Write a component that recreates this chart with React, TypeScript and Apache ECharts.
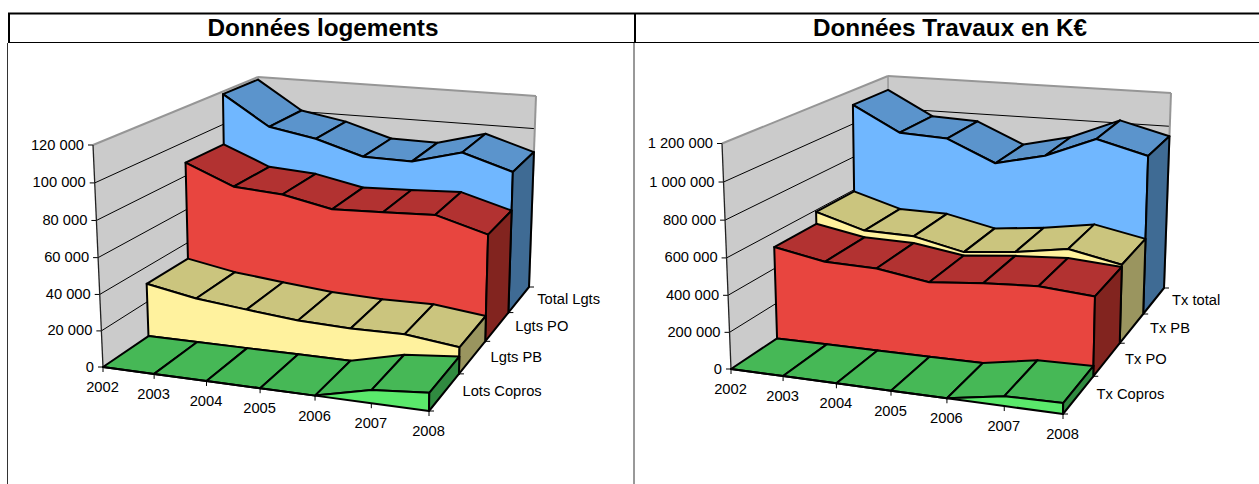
import React, { useEffect, useRef } from "react";
import * as echarts from "echarts";

const years = ["2002", "2003", "2004", "2005", "2006", "2007", "2008"];

// Left chart: Données logements
const lotsCopros = [0, 0, 0, 0, 0, 7100, 9750];
const lgtsPB = [30400, 25200, 22200, 19400, 18350, 18650, 15000];
const lgtsPO = [87700, 76200, 74300, 68400, 69500, 70850, 62400];
const totalLgts = [118350, 100700, 95700, 87200, 86800, 94600, 85500];
const leftTicks = [0, 20000, 40000, 60000, 80000, 100000, 120000];
const leftTickLabels = ["0", "20 000", "40 000", "60 000", "80 000", "100 000", "120 000"];
const leftDepthNames = ["Lots Copros", "Lgts PB", "Lgts PO", "Total Lgts"];

// Right chart: Données Travaux en K€
const txCopros = [0, 0, 0, 0, 0, 52500, 57600];
const txPO = [519700, 467500, 461500, 417000, 444200, 461500, 439200];
const txPB = [589900, 506700, 500700, 437200, 466400, 512600, 452300];
const txTotal = [1113400, 967400, 953800, 828800, 895800, 1016600, 940100];
const rightTicks = [0, 200000, 400000, 600000, 800000, 1000000, 1200000];
const rightTickLabels = ["0", "200 000", "400 000", "600 000", "800 000", "1 000 000", "1 200 000"];
const rightDepthNames = ["Tx Copros", "Tx PO", "Tx PB", "Tx total"];

const GREEN = { front: "#5AE96B", top: "#46B856", side: "#308A40" };
const YELLOW = { front: "#FFF29E", top: "#CBC57E", side: "#9A955F" };
const RED = { front: "#E8453F", top: "#B23231", side: "#82241F" };
const BLUE = { front: "#70B7FF", top: "#5B94CC", side: "#3F6B94" };
const FONT = "Liberation Sans, Arial, sans-serif";
const FONT_SIZE = 14.7;
const TITLE_SIZE = 24.3;
const LINE = 2;

type P = [number, number];
type Box = {
  fbl: P; ftl: P; fbr: P; ftr: P; bbl: P; btl: P; bbr: P; btr: P;
  left: number; top: number; width: number; height: number;
};

const leftBox: Box = {
  fbl: [103, 367], ftl: [93, 145], fbr: [429, 411], ftr: [433, 181],
  bbl: [259, 261], btl: [258, 77], bbr: [529, 287], btr: [536, 96],
  left: 93, top: 145, width: 336, height: 222,
};
const rightBox: Box = {
  fbl: [731, 369], ftl: [722, 143.5], fbr: [1063, 414], ftr: [1067, 180],
  bbl: [889, 264], btl: [888, 76], bbr: [1164, 288], btr: [1171, 93],
  left: 722, top: 143, width: 341, height: 226,
};

const lerp = (a: P, b: P, t: number): P => [a[0] + (b[0] - a[0]) * t, a[1] + (b[1] - a[1]) * t];
const warp = (t: number, k: number) => (t <= 0 ? 0 : t >= 1 ? 1 : t / (t + k * (1 - t)));

function project(b: Box, u: number, v: number, w: number): P {
  const uu = warp(u, 1.075);
  const ww = warp(w, 0.81 - 0.03 * uu);
  const vv = warp(v, 1.03);
  const bottom = lerp(lerp(b.fbl, b.fbr, uu), lerp(b.bbl, b.bbr, uu), ww);
  const top = lerp(lerp(b.ftl, b.ftr, uu), lerp(b.btl, b.btr, uu), ww);
  return lerp(bottom, top, vv);
}

const poly = (points: P[], fill: string, stroke: string, lineWidth = LINE) => ({
  type: "polygon",
  shape: { points },
  style: { fill, stroke, lineWidth, lineJoin: "round" },
});
const line = (a: P, b: P, stroke: string, lineWidth: number) => ({
  type: "line",
  shape: { x1: a[0], y1: a[1], x2: b[0], y2: b[1] },
  style: { stroke, lineWidth, fill: "none" },
});
const label = (x: number, y: number, text: string, align: string) => ({
  type: "text",
  style: { x, y, text, fill: "#000", fontSize: FONT_SIZE, fontFamily: FONT, align, verticalAlign: "middle" },
});

function norm(b: Box, c: number[]) {
  return { u: (c[0] - b.left) / b.width, v: (b.top + b.height - c[1]) / b.height };
}

function bandSeries(name: string, values: number[], z: number, colors: typeof BLUE, b: Box, axis: number) {
  return {
    type: "custom",
    name,
    xAxisIndex: axis,
    yAxisIndex: axis,
    silent: true,
    clip: false,
    encode: { x: 0, y: 1 },
    data: values.map((val, i) => [i, val]),
    renderItem: (params: any, api: any) => {
      if (params.dataIndex !== 0) return null;
      const n = values.length;
      const front: P[] = [];
      const back: P[] = [];
      const frontFloor: P[] = [];
      const backFloor: P[] = [];
      for (let i = 0; i < n; i++) {
        const { u, v } = norm(b, api.coord([i, api.value(1, i)]));
        front.push(project(b, u, v, z / 4));
        back.push(project(b, u, v, (z + 1) / 4));
        frontFloor.push(project(b, u, 0, z / 4));
        backFloor.push(project(b, u, 0, (z + 1) / 4));
      }
      const children: any[] = [];
      for (let i = 0; i < n - 1; i++) {
        children.push(poly([front[i], front[i + 1], back[i + 1], back[i]], colors.top, "#000"));
      }
      children.push(poly([...front, ...frontFloor.slice().reverse()], colors.front, "#000"));
      children.push(poly([front[n - 1], back[n - 1], backFloor[n - 1], frontFloor[n - 1]], colors.side, "#000"));
      return { type: "group", children };
    },
  };
}

function frameSeries(b: Box, axis: number) {
  return {
    type: "custom",
    name: "walls",
    xAxisIndex: axis,
    yAxisIndex: axis,
    silent: true,
    clip: false,
    encode: { x: 0, y: 1 },
    data: [[0, 0]],
    renderItem: () => ({
      type: "group",
      children: [
        poly([b.fbl, b.fbr, b.bbr, b.bbl], "#CBCBCB", "none", 0),
        poly([b.fbl, b.ftl, b.btl, b.bbl], "#CBCBCB", "none", 0),
        poly([b.bbl, b.btl, b.btr, b.bbr], "#CBCBCB", "none", 0),
      ],
    }),
  };
}

function yTickSeries(ticks: number[], tickLabels: string[], b: Box, axis: number) {
  return {
    type: "custom",
    name: "value ticks",
    xAxisIndex: axis,
    yAxisIndex: axis,
    silent: true,
    clip: false,
    encode: { x: 0, y: 1 },
    data: ticks.map((t) => [0, t]),
    renderItem: (params: any, api: any) => {
      const { v } = norm(b, api.coord([0, api.value(1)]));
      const a = project(b, 0, v, 0);
      const m = project(b, 0, v, 1);
      const e = project(b, 1, v, 1);
      const children: any[] = [];
      if (v > 0.001 && v < 0.999) {
        children.push(line(a, m, "#000", 1), line(m, e, "#000", 1));
      }
      children.push(line([a[0] - 5, a[1]], a, "#000", 1));
      children.push(label(a[0] - 9, a[1] - 0.5, tickLabels[params.dataIndex], "right"));
      return { type: "group", children };
    },
  };
}

function edgeSeries(b: Box, axis: number) {
  return {
    type: "custom",
    name: "wall edges",
    xAxisIndex: axis,
    yAxisIndex: axis,
    silent: true,
    clip: false,
    encode: { x: 0, y: 1 },
    data: [[0, 0]],
    renderItem: () => ({
      type: "group",
      children: [
        line(b.ftl, b.btl, "#969696", 2),
        line(b.btl, b.btr, "#969696", 2),
        line(b.btr, b.bbr, "#969696", 2),
        line(b.btl, b.bbl, "#969696", 1.5),
        line(b.ftl, b.fbl, "#222", 1.3),
      ],
    }),
  };
}

function xTickSeries(b: Box, axis: number) {
  return {
    type: "custom",
    name: "year ticks",
    xAxisIndex: axis,
    yAxisIndex: axis,
    silent: true,
    clip: false,
    encode: { x: 0, y: 1 },
    data: years.map((_, i) => [i, 0]),
    renderItem: (params: any, api: any) => {
      const { u } = norm(b, api.coord([api.value(0), 0]));
      const p = project(b, u, 0, 0);
      return {
        type: "group",
        children: [
          line(p, [p[0], p[1] + 5], "#000", 1),
          label(p[0] - 0.5, p[1] + 20, years[params.dataIndex], "center"),
        ],
      };
    },
  };
}

function depthSeries(names: string[], b: Box, axis: number) {
  return {
    type: "custom",
    name: "depth ticks",
    xAxisIndex: axis,
    yAxisIndex: axis,
    silent: true,
    clip: false,
    encode: { x: 0, y: 1 },
    data: names.map((_, i) => [6, 0, i]),
    renderItem: (params: any) => {
      const i = params.dataIndex;
      const p0 = project(b, 1, 0, i / 4);
      const p1 = project(b, 1, 0, (i + 1) / 4);
      const children: any[] = [];
      if (i === 0) children.push(line(p0, [p0[0] + 5, p0[1]], "#000", 1));
      children.push(line(p1, [p1[0] + 5, p1[1]], "#000", 1));
      children.push(label((p0[0] + p1[0]) / 2 + 18.5, (p0[1] + p1[1]) / 2 - 1, names[i], "left"));
      return { type: "group", children };
    },
  };
}

const gridOf = (b: Box) => ({ left: b.left, top: b.top, width: b.width, height: b.height, show: false });
const xOf = (gridIndex: number) => ({ type: "category", gridIndex, data: years, boundaryGap: false, show: false });
const yOf = (gridIndex: number, max: number, interval: number) => ({
  type: "value", gridIndex, min: 0, max, interval, show: false,
});

const borderLine = (x1: number, y1: number, x2: number, y2: number, stroke: string, lineWidth: number) => ({
  type: "line",
  silent: true,
  shape: { x1, y1, x2, y2 },
  style: { stroke, lineWidth },
});

export default function App() {
  const ref = useRef<HTMLDivElement>(null);
  useEffect(() => {
    document.body.style.margin = "0";
    document.body.style.overflow = "hidden";
    const chart = echarts.init(ref.current!, undefined, { renderer: "svg" });
    chart.setOption({
      animation: false,
      backgroundColor: "#fff",
      title: [
        {
          text: "Données logements", left: 318, top: 10, textAlign: "center",
          textStyle: { fontFamily: FONT, fontWeight: "bold", fontSize: TITLE_SIZE, color: "#000" },
        },
        {
          text: "Données Travaux en K€", left: 945, top: 10, textAlign: "center",
          textStyle: { fontFamily: FONT, fontWeight: "bold", fontSize: TITLE_SIZE, color: "#000" },
        },
      ],
      grid: [gridOf(leftBox), gridOf(rightBox)],
      xAxis: [xOf(0), xOf(1)],
      yAxis: [yOf(0, 120000, 20000), yOf(1, 1200000, 200000)],
      graphic: [
        borderLine(8, 13.5, 1259, 13.5, "#000", 2),
        borderLine(8, 42.5, 1259, 42.5, "#000", 1),
        borderLine(9, 13, 9, 42, "#000", 2),
        borderLine(635, 13, 635, 42, "#000", 2),
        borderLine(7.5, 43, 7.5, 484, "#333", 1),
        borderLine(634, 43, 634, 484, "#333", 1),
      ],
      series: [
        frameSeries(leftBox, 0),
        yTickSeries(leftTicks, leftTickLabels, leftBox, 0),
        edgeSeries(leftBox, 0),
        bandSeries("Total Lgts", totalLgts, 3, BLUE, leftBox, 0),
        bandSeries("Lgts PO", lgtsPO, 2, RED, leftBox, 0),
        bandSeries("Lgts PB", lgtsPB, 1, YELLOW, leftBox, 0),
        bandSeries("Lots Copros", lotsCopros, 0, GREEN, leftBox, 0),
        xTickSeries(leftBox, 0),
        depthSeries(leftDepthNames, leftBox, 0),

        frameSeries(rightBox, 1),
        yTickSeries(rightTicks, rightTickLabels, rightBox, 1),
        edgeSeries(rightBox, 1),
        bandSeries("Tx total", txTotal, 3, BLUE, rightBox, 1),
        bandSeries("Tx PB", txPB, 2, YELLOW, rightBox, 1),
        bandSeries("Tx PO", txPO, 1, RED, rightBox, 1),
        bandSeries("Tx Copros", txCopros, 0, GREEN, rightBox, 1),
        xTickSeries(rightBox, 1),
        depthSeries(rightDepthNames, rightBox, 1),
      ],
    });
    return () => chart.dispose();
  }, []);
  return <div ref={ref} style={{ width: 1259, height: 484 }} />;
}
